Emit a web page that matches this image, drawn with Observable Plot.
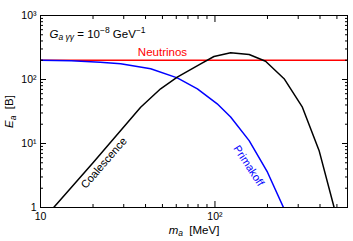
<!DOCTYPE html>
<html><head><meta charset="utf-8">
<script src="https://cdn.jsdelivr.net/npm/d3@7"></script>
<script src="https://cdn.jsdelivr.net/npm/@observablehq/plot@0.6"></script>
<style>body{margin:0;background:#fff}</style>
</head><body><div id="chart"></div>
<script>
// Data
const coalescenceM = [11.9, 20, 29.4, 37.5, 48.8, 60.8, 82.8, 98.7, 123, 157, 195, 249, 317, 395, 482];
const coalescenceE = [1, 5, 17.0, 36.9, 71.6, 108.7, 176, 229, 261, 246, 193, 103, 36.9, 7.8, 1];
const primakoffM = [10, 15, 22, 28.8, 42.8, 60.8, 79.3, 103, 123, 157, 200, 247];
const primakoffE = [200, 196, 186, 176, 147, 106, 71.6, 41.7, 25.9, 11.1, 3.56, 1];
const neutrinoM = [10, 575];
const neutrinoE = [200, 200];

const xMajor = [10, 100];
const xTickLabels = ["10", "10²"];
const xMinor = [20, 30, 40, 50, 60, 70, 80, 90, 200, 300, 400, 500];
const yMajor = [1, 10, 100, 1000];
const yTickLabels = ["1", "10¹", "10²", "10³"];
const yMinor = [2,3,4,5,6,7,8,9,20,30,40,50,60,70,80,90,200,300,400,500,600,700,800,900];

const toRows = (xs, ys) => xs.map((x, i) => ({x, y: ys[i]}));
const coal = toRows(coalescenceM, coalescenceE);
const prim = toRows(primakoffM, primakoffE);
const neut = toRows(neutrinoM, neutrinoE);

const blank = () => "";
const font = "'Liberation Sans', Arial, Helvetica, sans-serif";

const chart = Plot.plot({
  width: 353, height: 241,
  marginLeft: 40, marginRight: 6, marginTop: 15, marginBottom: 34,
  style: {fontFamily: font, fontSize: "10.5px", background: "#fff", color: "#000"},
  x: {type: "log", domain: [10, 575]},
  y: {type: "log", domain: [1, 1000]},
  marks: [
    Plot.line(neut, {x: "x", y: "y", stroke: "#ff0000", strokeWidth: 1.5, clip: true}),
    Plot.line(prim, {x: "x", y: "y", stroke: "#0000ff", strokeWidth: 1.5, clip: true}),
    Plot.line(coal, {x: "x", y: "y", stroke: "#000", strokeWidth: 1.5, clip: true}),
    Plot.frame({stroke: "#000", strokeWidth: 1}),
    // inward ticks on all four sides
    Plot.axisX(xMajor, {anchor: "bottom", tickSize: 6, dy: -6, tickFormat: blank, label: null, stroke: "#000"}),
    Plot.axisX(xMinor, {anchor: "bottom", tickSize: 3, dy: -3, tickFormat: blank, label: null, stroke: "#000"}),
    Plot.axisX(xMajor, {anchor: "top", tickSize: 6, dy: 6, tickFormat: blank, label: null, stroke: "#000"}),
    Plot.axisX(xMinor, {anchor: "top", tickSize: 3, dy: 3, tickFormat: blank, label: null, stroke: "#000"}),
    Plot.axisY(yMajor, {anchor: "left", tickSize: 6, dx: 6, tickFormat: blank, label: null, stroke: "#000"}),
    Plot.axisY(yMinor, {anchor: "left", tickSize: 3, dx: 3, tickFormat: blank, label: null, stroke: "#000"}),
    Plot.axisY(yMajor, {anchor: "right", tickSize: 6, dx: -6, tickFormat: blank, label: null, stroke: "#000"}),
    Plot.axisY(yMinor, {anchor: "right", tickSize: 3, dx: -3, tickFormat: blank, label: null, stroke: "#000"}),
    // tick labels
    Plot.axisX(xMajor, {anchor: "bottom", tickSize: 0, tickPadding: 5, tickFormat: d => xTickLabels[xMajor.indexOf(d)], label: null}),
    Plot.axisY(yMajor, {anchor: "left", tickSize: 0, tickPadding: 4, tickFormat: d => yTickLabels[yMajor.indexOf(d)], label: null}),
    // annotations
    Plot.text(["Neutrinos"], {x: 50, y: 200, text: d => d, fill: "#ff0000", fontSize: 11.5, textAnchor: "middle", lineAnchor: "bottom", dy: -4}),
    Plot.text(["Coalescence"], {x: 23.1, y: 4.96, text: d => d, fill: "#000", fontSize: 11, rotate: -49, textAnchor: "middle"}),
    Plot.text(["Primakoff"], {x: 156, y: 4.5, text: d => d, fill: "#0000ff", fontSize: 11, rotate: 57, textAnchor: "middle"}),
    Plot.text(["G_label"], {frameAnchor: "top-left", text: d => d, fontSize: 11.5, textAnchor: "start", lineAnchor: "bottom", dx: 9, dy: 22}),
    Plot.text(["E_label"], {frameAnchor: "left", text: d => d, fontSize: 11.5, rotate: -90, textAnchor: "middle", dx: -31}),
    Plot.text(["m_label"], {frameAnchor: "bottom", text: d => d, fontSize: 11.5, textAnchor: "middle", lineAnchor: "bottom", dy: 26})
  ]
});

document.getElementById("chart").appendChild(chart);

// rich text (italic, sub/superscripts)
const rich = {
  "G_label":
    '<tspan font-style="italic">G</tspan>' +
    '<tspan font-style="italic" font-size="8.5" dy="2.5">a γγ</tspan>' +
    '<tspan dy="-2.5"> = 10</tspan>' +
    '<tspan font-size="8.5" dy="-4.5">−8</tspan>' +
    '<tspan dy="4.5"> GeV</tspan>' +
    '<tspan font-size="8.5" dy="-4.5">−1</tspan>',
  "E_label":
    '<tspan font-style="italic">E</tspan>' +
    '<tspan font-style="italic" font-size="8.5" dy="2.5">a</tspan>' +
    '<tspan dy="-2.5" xml:space="preserve">  [B]</tspan>',
  "m_label":
    '<tspan font-style="italic">m</tspan>' +
    '<tspan font-style="italic" font-size="8.5" dy="2.5">a</tspan>' +
    '<tspan dy="-2.5" xml:space="preserve">  [MeV]</tspan>'
};
d3.select(chart).selectAll("text").each(function () {
  const t = this.textContent;
  if (rich[t]) this.innerHTML = rich[t];
});
</script></body></html>
